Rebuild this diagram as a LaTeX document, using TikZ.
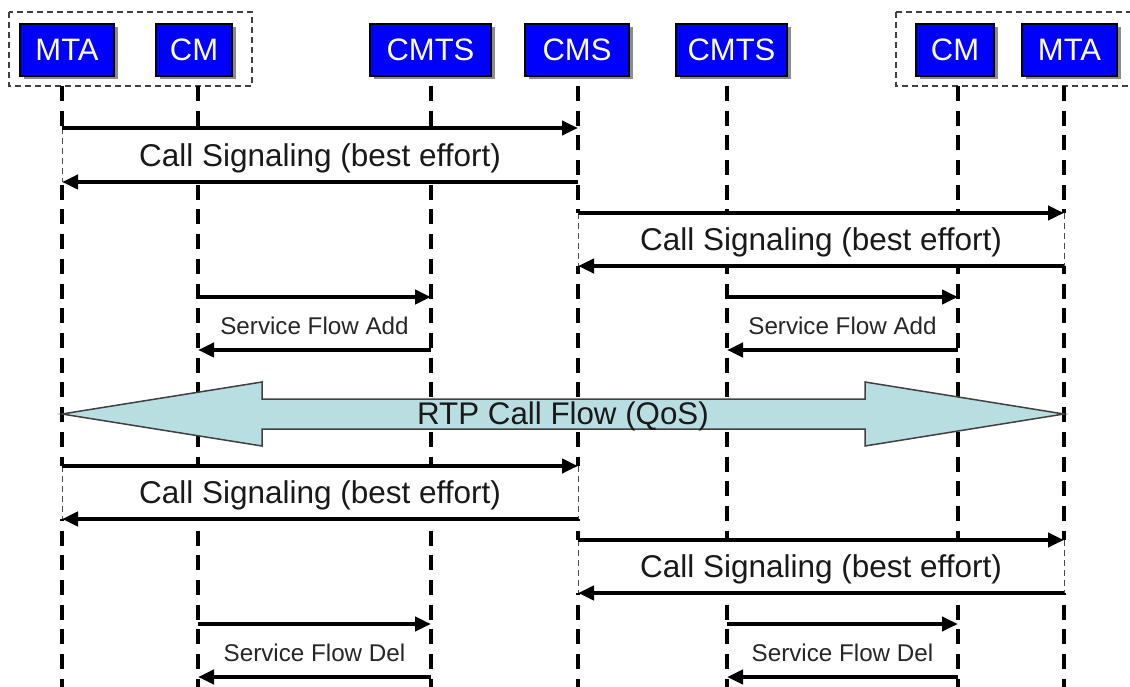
\documentclass[tikz,border=0pt]{standalone}
\usepackage{fontspec}
\setmainfont{Liberation Sans}
\usetikzlibrary{arrows.meta,calc,shadows}
\definecolor{rtpfill}{RGB}{185,222,226}
\begin{document}
\begin{tikzpicture}[x=1pt,y=-1pt,
  hdr/.style={draw=black, line width=1.5pt, fill=blue, text=white,
    font=\fontsize{31}{31}\selectfont, minimum height=52pt, inner sep=0pt,
    drop shadow={shadow xshift=3.5pt, shadow yshift=-3.5pt, fill=black!45, opacity=1}},
  grp/.style={draw=black!75, line width=1.3pt, dash pattern=on 6pt off 4pt},
  life/.style={draw=black, line width=4pt, dash pattern=on 15pt off 9.7pt},
  msg/.style={draw=black, line width=4pt, -{Triangle[length=16pt,width=14pt]}},
  lblfill/.style={fill=white},
  lbledge/.style={draw=black!70, line width=1pt, dash pattern=on 6pt off 4pt},
  big/.style={font=\fontsize{31.5}{31.5}\selectfont, text=black!90, inner sep=0pt, yshift=-3pt},
  small/.style={font=\fontsize{24.2}{24.2}\selectfont, text=black!85, inner sep=0pt, yshift=-2pt},
  rtp/.style={draw=black!75, line width=1.5pt, fill=rtpfill, line join=miter},
  rtptext/.style={font=\fontsize{31.3}{31.3}\selectfont, text=black!90, inner sep=0pt, yshift=-2pt}
]
\useasboundingbox (0,0) rectangle (1130,687);

% header boxes
\node[hdr, minimum width=94pt]  (MTA)   at (67,50)    {MTA};
\node[hdr, minimum width=76pt]  (CM)    at (194,50)   {CM};
\node[hdr, minimum width=121pt] (CMTS)  at (430.5,50) {CMTS};
\node[hdr, minimum width=104pt] (CMS)   at (577,50)   {CMS};
\node[hdr, minimum width=111pt] (CMTSb) at (731.5,50) {CMTS};
\node[hdr, minimum width=78pt]  (CMb)   at (955,50)   {CM};
\node[hdr, minimum width=95pt]  (MTAb)  at (1069.5,50){MTA};

% grouping boxes
\draw[grp] (9,12) rectangle (252,86);
\draw[grp] (896,12) rectangle (1145,86);

% lifeline tops
\coordinate (lMTA)   at (62,86);
\coordinate (lCM)    at (198,86);
\coordinate (lCMTS)  at (431,86);
\coordinate (lCMS)   at (578,86);
\coordinate (lCMTSb) at (727,86);
\coordinate (lCMb)   at (958,86);
\coordinate (lMTAb)  at (1064,86);

\foreach \l in {lMTA,lCM,lCMTS,lCMS,lCMTSb,lCMb,lMTAb}
  \draw[life] (\l) -- ++(0,620);

% row coordinates
\coordinate (r1) at (0,128);
\coordinate (r2) at (0,182);
\coordinate (r3) at (0,213);
\coordinate (r4) at (0,266);
\coordinate (r5) at (0,297);
\coordinate (r6) at (0,350);
\coordinate (rr) at (0,414);
\coordinate (r7) at (0,466);
\coordinate (r8) at (0,519);
\coordinate (r9) at (0,540);
\coordinate (r10) at (0,593);
\coordinate (r11) at (0,624);
\coordinate (r12) at (0,677);

% label backgrounds for call signaling
\fill[lblfill] ($(lMTA|-r1)+(-3,0)$) rectangle ($(lCMS|-r2)+(-3,0)$);
\draw[lbledge] (lMTA|-r1) -- (lMTA|-r2);
\fill[lblfill] ($(lCMS|-r3)+(-3,0)$) rectangle ($(lMTAb|-r4)+(3,0)$);
\draw[lbledge] (lCMS|-r3) -- (lCMS|-r4);
\draw[lbledge] (lMTAb|-r3) -- (lMTAb|-r4);
\fill[lblfill] ($(lMTA|-r7)+(-3,0)$) rectangle ($(lCMS|-r8)+(3,0)$);
\draw[lbledge] (lMTA|-r7) -- (lMTA|-r8);
\draw[lbledge] (lCMS|-r7) -- (lCMS|-r8);
\fill[lblfill] ($(lCMS|-r9)+(-3,0)$) rectangle ($(lMTAb|-r10)+(3,0)$);
\draw[lbledge] (lCMS|-r9) -- (lCMS|-r10);
\draw[lbledge] (lMTAb|-r9) -- (lMTAb|-r10);

% messages
\draw[msg] (lMTA|-r1) -- (lCMS|-r1);
\draw[msg] (lCMS|-r2) -- (lMTA|-r2);
\draw[msg] (lCMS|-r3) -- (lMTAb|-r3);
\draw[msg] (lMTAb|-r4) -- (lCMS|-r4);
\draw[msg] (lCM|-r5) -- (lCMTS|-r5);
\draw[msg] (lCMTS|-r6) -- (lCM|-r6);
\draw[msg] (lCMTSb|-r5) -- (lCMb|-r5);
\draw[msg] (lCMb|-r6) -- (lCMTSb|-r6);

\draw[msg] (lMTA|-r7) -- (lCMS|-r7);
\draw[msg] (lCMS|-r8) -- (lMTA|-r8);
\draw[msg] (lCMS|-r9) -- (lMTAb|-r9);
\draw[msg] (lMTAb|-r10) -- (lCMS|-r10);
\draw[msg] (lCM|-r11) -- (lCMTS|-r11);
\draw[msg] (lCMTS|-r12) -- (lCM|-r12);
\draw[msg] (lCMTSb|-r11) -- (lCMb|-r11);
\draw[msg] (lCMb|-r12) -- (lCMTSb|-r12);

% labels
\node[big] (cs1) at ($(lMTA|-r1)!0.5!(lCMS|-r2)$) {Call Signaling (best effort)};
\node[big] (cs2) at ($(lCMS|-r3)!0.5!(lMTAb|-r4)$) {Call Signaling (best effort)};
\node[small] (sfa1) at ($(lCM|-r5)!0.5!(lCMTS|-r6)$) {Service Flow Add};
\node[small] (sfa2) at ($(lCMTSb|-r5)!0.5!(lCMb|-r6)$) {Service Flow Add};
\node[big] (cs3) at ($(lMTA|-r7)!0.5!(lCMS|-r8)$) {Call Signaling (best effort)};
\node[big] (cs4) at ($(lCMS|-r9)!0.5!(lMTAb|-r10)$) {Call Signaling (best effort)};
\node[small] (sfd1) at ($(lCM|-r11)!0.5!(lCMTS|-r12)$) {Service Flow Del};
\node[small] (sfd2) at ($(lCMTSb|-r11)!0.5!(lCMb|-r12)$) {Service Flow Del};

% RTP double arrow
\draw[rtp] (lMTA|-rr) -- ++(200,-32) -- ++(0,17)
  -- ($(lMTAb|-rr)+(-199,-15)$) -- ++(0,-17) -- (lMTAb|-rr)
  -- ($(lMTAb|-rr)+(-199,32)$) -- ++(0,-17)
  -- ($(lMTA|-rr)+(200,15)$) -- ++(0,17) -- cycle;
\node[rtptext] (rtp) at ($(lMTA|-rr)!0.5!(lMTAb|-rr)$) {RTP Call Flow (QoS)};
\end{tikzpicture}
\end{document}
